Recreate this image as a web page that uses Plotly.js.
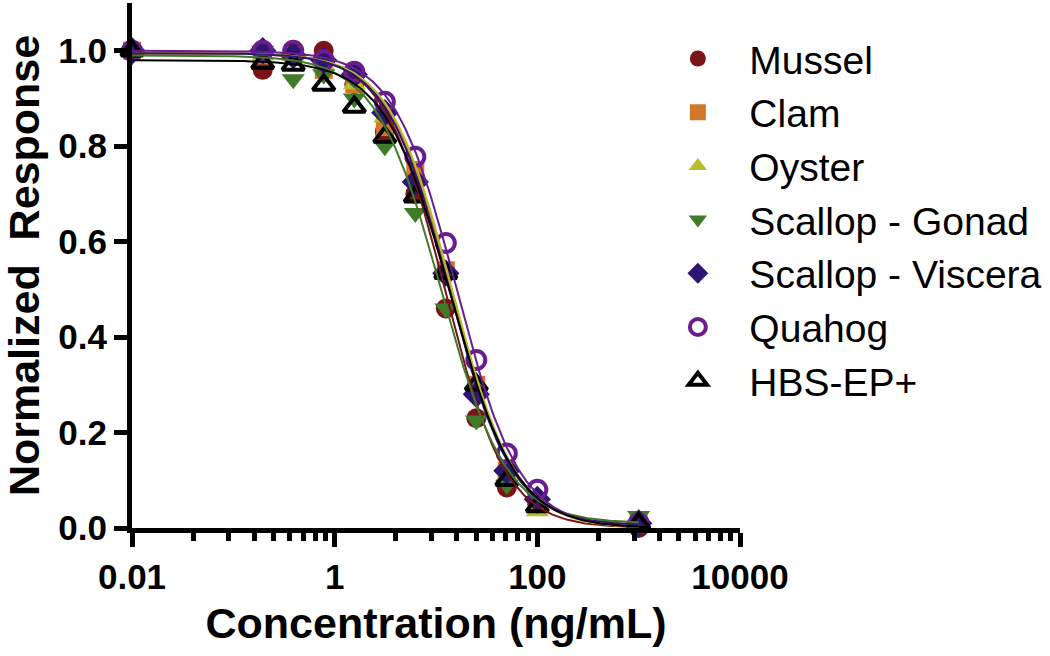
<!DOCTYPE html>
<html>
<head>
<meta charset="utf-8">
<script src="https://cdn.plot.ly/plotly-3.0.1.min.js"></script>
<style>html,body{margin:0;padding:0;background:#fff;}#chart{width:1050px;height:656px;}</style>
</head>
<body>
<div id="chart"></div>
<script>
// ---- data ----
const concentrations = [0.01, 0.195, 0.39, 0.78, 1.5625, 3.125, 6.25, 12.5, 25, 50, 100, 1000];
const seriesNames = ["Mussel", "Clam", "Oyster", "Scallop - Gonad", "Scallop - Viscera", "Quahog", "HBS-EP+"];
const musselValues  = [1.00, 0.96, 1.00, 1.00, 0.93, 0.83, 0.70, 0.46, 0.23, 0.085, 0.05, 0.00];
const clamValues    = [1.00, 0.99, 0.99, 0.96, 0.93, 0.84, 0.75, 0.54, 0.30, 0.12, 0.05, 0.01];
const oysterValues  = [1.00, 0.99, 0.99, 0.97, 0.93, 0.86, 0.73, 0.53, 0.29, 0.11, 0.035, 0.02];
const gonadValues   = [0.99, 1.00, 0.94, 0.95, 0.90, 0.80, 0.66, 0.46, 0.225, 0.09, 0.05, 0.025];
const visceraValues = [1.00, 1.00, 0.99, 0.98, 0.95, 0.87, 0.725, 0.534, 0.28, 0.12, 0.06, 0.01];
const quahogValues  = [1.00, 1.00, 1.00, 0.98, 0.956, 0.893, 0.778, 0.597, 0.352, 0.156, 0.08, 0.01];
const hbsValues     = [1.00, 0.974, 0.97, 0.928, 0.882, 0.819, 0.694, 0.534, 0.30, 0.10, 0.045, 0.01];
// four-parameter logistic fit parameters
const fitTop    = [0.995, 0.995, 0.995, 0.99, 0.995, 1.00, 0.98];
const fitBottom = [0.00, 0.005, 0.00, 0.01, 0.005, 0.00, 0.00];
const fitIC50   = [12.3, 14.0, 14.5, 11.2, 13.5, 16.0, 13.8];
const fitHill   = [1.45, 1.40, 1.40, 1.35, 1.40, 1.40, 1.35];
const xTickVals = [0.01, 1, 100, 10000];
const xTickText = ["0.01", "1", "100", "10000"];
const yTickVals = [0, 0.2, 0.4, 0.6, 0.8, 1.0];
const yTickText = ["0.0", "0.2", "0.4", "0.6", "0.8", "1.0"];

// ---- styles ----
const colors  = ["#7a1416", "#d2772a", "#b7be2a", "#3f7b29", "#2c1672", "#6a1d8f", "#000000"];
const symbols = ["circle", "square", "triangle-up", "triangle-down", "diamond", "circle-open", "triangle-up-open"];
const sizes   = [20, 18, 20, 20, 21, 18, 19];
const allValues = [musselValues, clamValues, oysterValues, gonadValues, visceraValues, quahogValues, hbsValues];

const traces = [];
allValues.forEach((vals, i) => {
  traces.push({
    type: "scatter", mode: "markers", name: seriesNames[i],
    x: concentrations, y: vals, cliponaxis: false,
    marker: {symbol: symbols[i], size: sizes[i], color: colors[i],
             line: {color: colors[i], width: symbols[i].endsWith("open") ? 4 : 0}}
  });
});
// fitted curves sampled along the x axis
const nSamp = 200;
const xs = [];
const lo = Math.log10(concentrations[0]), hi = Math.log10(concentrations[concentrations.length - 1]);
for (let k = 0; k <= nSamp; k++) xs.push(Math.pow(10, lo + (hi - lo) * k / nSamp));
allValues.forEach((vals, i) => {
  traces.push({
    type: "scatter", mode: "lines", showlegend: false, hoverinfo: "skip",
    x: xs, y: xs.map(x => fitBottom[i] + (fitTop[i] - fitBottom[i]) / (1 + Math.pow(x / fitIC50[i], fitHill[i]))),
    line: {color: colors[i], width: 2}, cliponaxis: false
  });
});

// minor ticks: GraphPad-style log subdivision of each 100-fold interval
const minorVals = [];
for (let j = 0; j < xTickVals.length - 1; j++) for (let k = 2; k <= 9; k++) minorVals.push(xTickVals[j] * k * k);

const fam = "'Liberation Sans', Arial, sans-serif";
const tickFont = {family: fam, size: 35, color: "#000", weight: "bold"};
const titleFont = {family: fam, size: 43, color: "#000", weight: "bold"};

const layout = {
  width: 1050, height: 656,
  paper_bgcolor: "#fff", plot_bgcolor: "#fff",
  margin: {l: 132, r: 310, t: 3, b: 128},
  showlegend: true,
  legend: {x: 0.846, y: 0.955, xanchor: "left", yanchor: "top",
           font: {family: fam, size: 39, color: "#000"},
           itemwidth: 93, tracegroupgap: 0, bgcolor: "rgba(0,0,0,0)"},
  xaxis: {
    type: "log", range: [-2, 4], autorange: false,
    showgrid: false, zeroline: false,
    showline: true, linecolor: "#000", linewidth: 5,
    ticks: "outside", ticklen: 14, tickwidth: 5, tickcolor: "#000",
    tickmode: "array", tickvals: xTickVals, ticktext: xTickText,
    tickfont: tickFont,
    minor: {tickmode: "array", tickvals: minorVals, ticks: "outside", ticklen: 8, tickwidth: 5, tickcolor: "#000", showgrid: false},
    title: {text: "Concentration (ng/mL)", font: titleFont, standoff: 14},
    automargin: false
  },
  yaxis: {
    range: [0, 1.1], autorange: false,
    showgrid: false, zeroline: false,
    showline: true, linecolor: "#000", linewidth: 5,
    ticks: "outside", ticklen: 13, tickwidth: 5, tickcolor: "#000",
    tickmode: "array", tickvals: yTickVals, ticktext: yTickText,
    tickfont: tickFont,
    title: {text: "Normalized\u00a0\u00a0Response", font: titleFont, standoff: 20},
    automargin: false
  }
};

Plotly.newPlot("chart", traces, layout, {displayModeBar: false, staticPlot: true});
</script>
</body>
</html>
